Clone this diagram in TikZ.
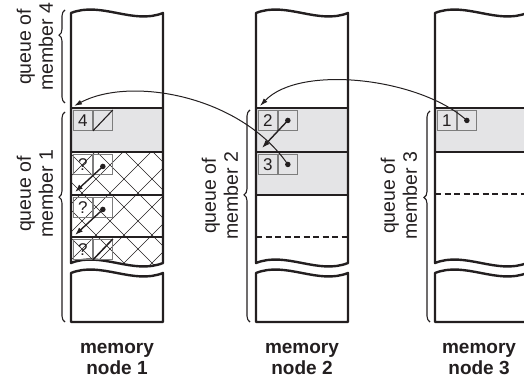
\documentclass[tikz,border=0pt]{standalone}
\usepackage{fontspec}
\setmainfont{Liberation Sans}
\usetikzlibrary{decorations.pathreplacing,arrows.meta}
\definecolor{bandgray}{RGB}{228,228,230}
\definecolor{ink}{RGB}{35,31,32}
\definecolor{boxgray}{RGB}{125,125,125}
\begin{document}
\begin{tikzpicture}[x=1pt,y=-1pt,
  wall/.style={draw=ink,line width=2.4pt,line join=round},
  sep/.style={draw=ink,line width=2.4pt},
  dsep/.style={draw=ink,line width=2pt,dash pattern=on 6pt off 3.5pt},
  hatchline/.style={draw=ink,line width=0.7pt},
  cellbox/.style={draw=boxgray,line width=0.9pt,minimum width=19pt,minimum height=20pt,inner sep=0pt,anchor=north west,font=\fontsize{17}{17}\selectfont,text=ink},
  nullslash/.style={draw=ink,line width=1.1pt},
  ptr/.style={draw=ink,line width=1.4pt,-{Latex[length=8pt,width=5.5pt]}},
  link/.style={draw=ink,line width=1pt,-{Latex[length=8pt,width=5pt]}},
  dotc/.style={fill=ink,circle,inner sep=0pt,minimum size=5.5pt},
  qlabel/.style={rotate=90,align=center,font=\fontsize{19.5}{22}\selectfont,text=ink,inner sep=0pt},
  mlabel/.style={align=center,font=\bfseries\fontsize{19}{21}\selectfont,text=ink,inner sep=0pt},
  qbrace/.style={draw=ink,line width=1.1pt,decorate,decoration={brace,amplitude=6pt,aspect=#1}}
]
\useasboundingbox (0,0) rectangle (524,379);
\clip (0,0) rectangle (524,379);

% gray bands
\fill[bandgray] (71,108) rectangle (163,152);
\fill[bandgray] (256,108) rectangle (348,195);
\fill[bandgray] (435,108) rectangle (527,152);

% hatch in column 1
\begin{scope}
\clip (71,152) -- (163,152) -- (163,263) .. controls (133,275) and (101,251) .. (71,263) -- cycle;
\foreach \k in {-5,...,8}{
  \draw[hatchline] ({247+28*\k-100},100) -- ({247+28*\k-300},300);
  \draw[hatchline] ({-83+28*\k+100},100) -- ({-83+28*\k+300},300);
}
\end{scope}

% separators
\foreach \yy in {108,152,195,237} \draw[sep] (71,\yy) -- (163,\yy);
\foreach \yy in {108,152,195} \draw[sep] (256,\yy) -- (348,\yy);
\draw[dsep] (256,237) -- (348,237);
\foreach \yy in {108,152} \draw[sep] (435,\yy) -- (527,\yy);
\draw[dsep] (435,194) -- (527,194);

% column walls
\foreach \L in {71,256,435}{
  \draw[wall] (\L,13) .. controls (\L+30,1) and (\L+62,25) .. (\L+92,13) -- (\L+92,263)
     .. controls (\L+62,275) and (\L+30,251) .. (\L,263) -- cycle;
  \draw[wall] (\L,273) .. controls (\L+30,261) and (\L+62,285) .. (\L+92,273) -- (\L+92,322) -- (\L,322) -- cycle;
}

% column 1 cells
\node[cellbox] (a4) at (73,110) {4};
\node[cellbox] (a4p) at (a4.north east) {};
\draw[nullslash] (a4p.south west) -- (a4p.north east);

\node[cellbox] (q1) at (73,154) {?};
\node[cellbox] (q1p) at (q1.north east) {};
\node[dotc] (d1) at ([yshift=-2pt]q1p.center) {};
\coordinate (t1) at (75,192);
\draw[ptr] (d1.center) -- (t1);

\node[cellbox] (q2) at (73,197) {?};
\node[cellbox] (q2p) at (q2.north east) {};
\node[dotc] (d2) at ([yshift=-2pt]q2p.center) {};
\coordinate (t2) at (75,235);
\draw[ptr] (d2.center) -- (t2);

\node[cellbox] (q3) at (73,239) {?};
\node[cellbox] (q3p) at (q3.north east) {};
\draw[nullslash,line width=1.5pt] (q3p.south west) -- (q3p.north east);

% column 2 cells
\node[cellbox] (b2) at (258,110) {2};
\node[cellbox] (b2p) at (b2.north east) {};
\node[dotc] (e2) at (b2p.center) {};
\coordinate (u2) at (262,148);
\draw[ptr] (e2.center) -- (u2);

\node[cellbox] (b3) at (258,154) {3};
\node[cellbox] (b3p) at (b3.north east) {};
\node[dotc] (e3) at (b3p.center) {};

% column 3 cells
\node[cellbox] (c1) at (437,110) {1};
\node[cellbox] (c1p) at (c1.north east) {};
\node[dotc] (f1) at (c1p.center) {};

% long links
\coordinate (top1) at (74,106);
\coordinate (top2) at (260,106);
\draw[link] (e3.center) .. controls (240,95) and (130,76) .. (top1);
\draw[link] (f1.center) .. controls (420,78) and (300,64) .. (top2);

% braces
\draw[qbrace=0.73] (65,103) -- (65,10);
\draw[qbrace=0.595] (65,322) -- (65,112);
\draw[qbrace=0.6] (250,322) -- (250,110);
\draw[qbrace=0.59] (430,322) -- (430,111);

% labels
\node[qlabel] (l4) at (35,47) {queue of\\member 4};
\node[qlabel] (l1) at (35,194) {queue of\\member 1};
\node[qlabel] (l2) at (220,196) {queue of\\member 2};
\node[qlabel] (l3) at (399,196) {queue of\\member 3};
\node[mlabel] (m1) at (117,359) {memory\\node 1};
\node[mlabel] (m2) at (302,359) {memory\\node 2};
\node[mlabel] (m3) at (479,359) {memory\\node 3};
\end{tikzpicture}
\end{document}
